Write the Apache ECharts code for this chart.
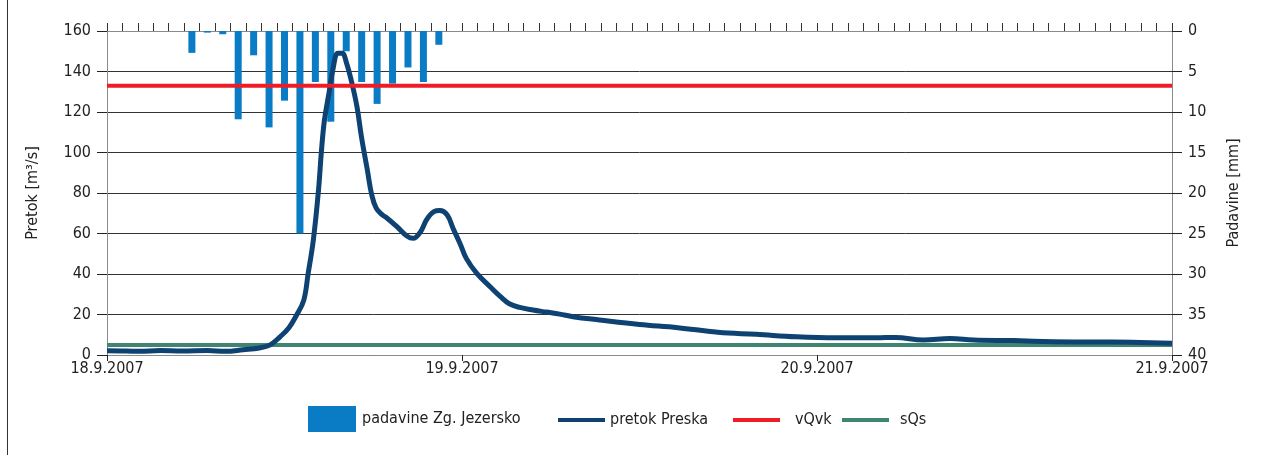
<!DOCTYPE html>
<html>
<head>
<meta charset="utf-8">
<script src="https://cdn.jsdelivr.net/npm/echarts@6/dist/echarts.min.js"></script>
<style>
html,body{margin:0;padding:0;background:#fff;}
#chart{width:1261px;height:455px;}
</style>
</head>
<body>
<div id="chart"></div>
<script>
// X axis tick labels (one per day)
const dayLabels = ['18.9.2007', '19.9.2007', '20.9.2007', '21.9.2007'];

// Hourly precipitation (mm), 69 hourly slots on the top category axis
const rainMm = [null, null, null, null, null, 2.7, 0.2, 0.4, 10.9, 3.0, 11.9, 8.6, 25, 6.3, 11.2, 2.5, 6.3, 9.0, 6.5, 4.5, 6.3, 1.7,
  null, null, null, null, null, null, null, null, null, null, null, null, null, null, null, null, null, null,
  null, null, null, null, null, null, null, null, null, null, null, null, null, null, null, null, null, null,
  null, null, null, null, null, null, null, null, null, null, null];

// Discharge at Preska: hours since 18.9.2007 00:00 and discharge (m3/s)
const flowHours = [0, 1.3, 2.2, 3.6, 5.1, 6.8, 8.0, 9.2, 10.3, 11.0, 11.7, 12.3, 12.8, 13.3, 13.6, 13.95, 14.3, 14.5, 14.7, 15.0,
  15.3, 15.6, 15.9, 16.2, 16.5, 16.9, 17.2, 17.6, 17.9, 18.2, 18.6, 18.9, 19.6, 20.3, 20.7, 21.2, 21.6, 22.1, 22.5, 23.0, 23.4,
  23.9, 24.3, 25.0, 25.9, 26.6, 27.2, 27.9, 28.8, 29.7, 30.6, 31.5, 33.3, 36.0, 38.6, 41.3, 43.9, 46.6, 49.3, 52.0, 53.3,
  55.2, 57.0, 58.6, 61.3, 64.0, 66.7, 69.3, 72];
const flowValues = [2.1, 2.0, 1.8, 2.2, 2.0, 2.2, 1.8, 2.6, 3.5, 4.9, 9.0, 13.5, 19.5, 27, 40.3, 56.8, 81.5, 101, 116, 129,
  142, 149, 149, 144, 136, 122.6, 107.8, 91.4, 79, 72.5, 69.3, 67.8, 63.4, 58.6, 57.6, 60.9, 66.7, 70.8, 71.3, 69.1, 62.5,
  54.5, 47.6, 40.3, 33.7, 28.8, 25.3, 23.5, 22.2, 21.2, 20.2, 18.9, 17.3, 15.1, 13.5, 11.2, 10.2, 9.0, 8.5, 8.5, 8.7,
  7.4, 8.2, 7.4, 7.1, 6.6, 6.4, 6.3, 5.8];

// Threshold levels (m3/s)
const vQvk = 133;
const sQs = 5;
const spanHours = [0, 72];

const FONT = '"DejaVu Sans Condensed", "Liberation Sans Narrow", sans-serif';
const TXT = '#222';

const rainCats = rainMm.map((v, i) => String(i + 1));
const flowData = flowHours.map((h, i) => [h, flowValues[i]]);

const chart = echarts.init(document.getElementById('chart'));
chart.setOption({
  animation: false,
  backgroundColor: '#fff',
  textStyle: { fontFamily: FONT, color: TXT },
  grid: { left: 107, right: 89, top: 31, bottom: 100 },
  xAxis: [
    {
      type: 'value', min: 0, max: 72, interval: 24, position: 'bottom',
      axisLine: { show: true, lineStyle: { color: '#8a8a8a', width: 1 } },
      axisTick: { show: true, length: 6, lineStyle: { color: '#222' } },
      axisLabel: { color: TXT, fontSize: 16, fontFamily: FONT, margin: 6,
        formatter: v => dayLabels[Math.round(v / 24)] },
      splitLine: { show: false }
    },
    {
      type: 'category', data: rainCats, position: 'top', boundaryGap: true,
      axisLine: { show: true, lineStyle: { color: '#8a8a8a', width: 1 } },
      axisTick: { show: true, length: 8, interval: 0, lineStyle: { color: '#333' } },
      axisLabel: { show: false },
      splitLine: { show: false }
    }
  ],
  yAxis: [
    {
      type: 'value', min: 0, max: 160, interval: 20, position: 'left',
      name: 'Pretok [m³/s]', nameLocation: 'middle', nameGap: 66, nameRotate: 90,
      nameTextStyle: { fontSize: 16, color: TXT, fontFamily: FONT },
      axisLine: { show: true, lineStyle: { color: '#8a8a8a', width: 1 } },
      axisTick: { show: true, length: 10, lineStyle: { color: '#222' } },
      axisLabel: { color: TXT, fontSize: 16, fontFamily: FONT, margin: 16 },
      splitLine: { show: true, lineStyle: { color: '#333', width: 1 } }
    },
    {
      type: 'value', min: 0, max: 40, interval: 5, position: 'right', inverse: true,
      name: 'Padavine [mm]', nameLocation: 'middle', nameGap: 54, nameRotate: 90,
      nameTextStyle: { fontSize: 16, color: TXT, fontFamily: FONT },
      axisLine: { show: true, lineStyle: { color: '#8a8a8a', width: 1 } },
      axisTick: { show: true, length: 10, lineStyle: { color: '#222' } },
      axisLabel: { color: TXT, fontSize: 16, fontFamily: FONT, margin: 16 },
      splitLine: { show: false }
    }
  ],
  legend: [
    { left: 303, top: 401, itemWidth: 48, itemHeight: 26, itemGap: 0,
      textStyle: { fontSize: 16, color: TXT, fontFamily: FONT, padding: [0, 0, 0, 1] },
      data: [{ name: 'padavine Zg. Jezersko', icon: 'rect' }] },
    { left: 553, top: 407, itemWidth: 47, itemHeight: 4, icon: 'rect',
      textStyle: { fontSize: 16, color: TXT, fontFamily: FONT },
      data: ['pretok Preska'] },
    { left: 728, top: 407, itemWidth: 47, itemHeight: 4, icon: 'rect',
      textStyle: { fontSize: 16, color: TXT, fontFamily: FONT, padding: [0, 0, 0, 10] },
      data: ['vQvk'] },
    { left: 837, top: 407, itemWidth: 47, itemHeight: 4, icon: 'rect',
      textStyle: { fontSize: 16, color: TXT, fontFamily: FONT, padding: [0, 0, 0, 6] },
      data: ['sQs'] }
  ],
  graphic: [
    { type: 'line', shape: { x1: 7.5, y1: 0, x2: 7.5, y2: 455 }, style: { stroke: '#333', lineWidth: 1 }, silent: true }
  ],
  series: [
    {
      name: 'padavine Zg. Jezersko', type: 'bar', xAxisIndex: 1, yAxisIndex: 1,
      data: rainMm, barWidth: 7, color: '#0a7cc5',
      itemStyle: { color: '#0a7cc5' }, z: 1
    },
    {
      name: 'sQs', type: 'line', xAxisIndex: 0, yAxisIndex: 0,
      data: spanHours.map(h => [h, sQs]), showSymbol: false, symbol: 'none',
      color: '#3f8571', lineStyle: { color: '#3f8571', width: 4 }, z: 3
    },
    {
      name: 'pretok Preska', type: 'line', xAxisIndex: 0, yAxisIndex: 0,
      data: flowData, showSymbol: false, symbol: 'none', smooth: 0.4,
      color: '#0d4272', lineStyle: { color: '#0d4272', width: 5, join: 'round' }, z: 4
    },
    {
      name: 'vQvk', type: 'line', xAxisIndex: 0, yAxisIndex: 0,
      data: spanHours.map(h => [h, vQvk]), showSymbol: false, symbol: 'none',
      color: '#ee1c25', lineStyle: { color: '#ee1c25', width: 4 }, z: 5
    }
  ]
});
</script>
</body>
</html>
